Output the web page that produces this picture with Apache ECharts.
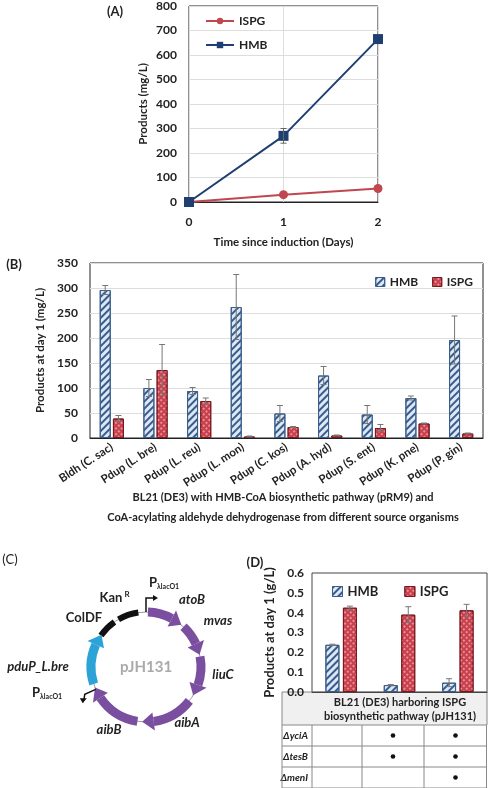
<!DOCTYPE html>
<html><head><meta charset="utf-8">
<script src="https://cdn.jsdelivr.net/npm/echarts@6/dist/echarts.min.js"></script>
<style>html,body{margin:0;padding:0;background:#fff}#c{width:488px;height:788px}</style>
</head><body><div id="c"></div>
<script>
// ---- Panel A data
const daysA = ['0','1','2'];
const hmbA = [0, 270, 665];
const hmbAErr = [0, 30, 0];
const ispgA = [0, 30, 55];
const ispgAErr = [0, 3, 5];
// ---- Panel B data
const catsB = ['Bldh (C. sac)','Pdup (L. bre)','Pdup (L. reu)','Pdup (L. mon)','Pdup (C. kos)','Pdup (A. hyd)','Pdup (S. ent)','Pdup (K. pne)','Pdup (P. gin)'];
const hmbB = [296, 100, 94, 262, 49, 125, 47, 80, 196];
const hmbBErr = [9, 17, 7, 65, 16, 18, 18, 4, 48];
const ispgB = [39, 136, 74, 3, 22, 5, 20, 29, 9];
const ispgBErr = [6, 51, 6, 1, 1, 1, 7, 1, 1];
// ---- Panel D data
const catsD = ['WT', 'dyt', 'dytm'];
const hmbD = [0.238, 0.035, 0.047];
const hmbDErr = [0.003, 0.003, 0.02];
const ispgD = [0.425, 0.39, 0.412];
const ispgDErr = [0.008, 0.04, 0.03];
const rowsD = ['ΔyciA', 'ΔtesB', 'ΔmenI'];
const marksD = [[0,1,1],[0,1,1],[0,0,1]];
// ---- Panel C plasmid segments (degrees clockwise from top)
const plasmidSegs = [
  {name:'ColDF', a0:-55, a1:-35, color:'#111', w:6, arrow:0},
  {name:'KanR', a0:-30, a1:-8, color:'#111', w:6, arrow:0},
  {name:'atoB', a0:2, a1:40, color:'#7b4fa0', w:9, arrow:1},
  {name:'mvas', a0:43, a1:77, color:'#7b4fa0', w:9, arrow:1},
  {name:'liuC', a0:79, a1:121, color:'#7b4fa0', w:9, arrow:1},
  {name:'aibA', a0:128, a1:184, color:'#7b4fa0', w:9, arrow:1},
  {name:'aibB', a0:189, a1:248, color:'#7b4fa0', w:9, arrow:1},
  {name:'pduP', a0:252, a1:306, color:'#2ba3d6', w:9, arrow:1}
];

const F = 'Lato, "Open Sans", sans-serif';
const TC = '#222';
const hmbStyle = {color:'#dce8f4', borderColor:'#3c5d8a', borderWidth:1,
  decal:{symbol:'rect', dashArrayX:[1,0], dashArrayY:[2,2.5], rotation:-Math.PI/4, color:'#3a5c8c'}};
const ispgStyle = {color:'#c9404c', borderColor:'#7a1820', borderWidth:1,
  decal:{symbol:'rect', symbolSize:0.75, dashArrayX:[[2,1.5]], dashArrayY:[2,1.5], rotation:Math.PI/4, color:'rgba(255,220,225,0.9)'}};

function errSeries(xi, yi, vals, errs, offset, color) {
  return {type:'custom', xAxisIndex:xi, yAxisIndex:yi, silent:true, z:10,
    data: vals.map((v,i)=>[i, v, errs[i]]),
    renderItem:(p, api)=>{
      const i=api.value(0), v=api.value(1), e=api.value(2);
      if(!e) return null;
      const top=api.coord([i, v+e]), bot=api.coord([i, Math.max(0,v-e)]);
      const x=top[0]+offset, hw=3;
      const st={stroke:color, lineWidth:1};
      return {type:'group', children:[
        {type:'line', shape:{x1:x,y1:top[1],x2:x,y2:bot[1]}, style:st},
        {type:'line', shape:{x1:x-hw,y1:top[1],x2:x+hw,y2:top[1]}, style:st},
        {type:'line', shape:{x1:x-hw,y1:bot[1],x2:x+hw,y2:bot[1]}, style:st}]};
    }};
}

const axisLbl = {color:TC, fontFamily:F, fontWeight:'bold', fontSize:12};
const nameStyle = {color:TC, fontFamily:F, fontWeight:'bold', fontSize:11.5};

const cx=146, cy=667, R=55;
function pt(a, r){const t=a*Math.PI/180; return [cx+r*Math.sin(t), cy-r*Math.cos(t)];}
const gfx = [];
gfx.push({type:'circle', shape:{cx, cy, r:R}, style:{fill:'none', stroke:'#999', lineWidth:1}});
plasmidSegs.forEach(s=>{
  const head=s.arrow?12:0;
  const b0=s.a0, b1=s.a1-head;
  const toRad = a=>(a-90)*Math.PI/180;
  gfx.push({type:'sector', shape:{cx, cy, r:R+s.w/2, r0:R-s.w/2, startAngle:toRad(b0), endAngle:toRad(b1), clockwise:true},
    style:{fill:s.color}});
  if(s.arrow){
    gfx.push({type:'polygon', shape:{points:[pt(b1,R+s.w), pt(s.a1,R), pt(b1,R-s.w)]}, style:{fill:s.color}});
  }
});
gfx.push({type:'polyline', shape:{points:[pt(0,R),[cx,cy-R-14],[cx+9,cy-R-14]]}, style:{stroke:'#111', lineWidth:1.5, fill:'none'}});
gfx.push({type:'polygon', shape:{points:[[cx+12,cy-R-14],[cx+7,cy-R-17],[cx+7,cy-R-11]]}, style:{fill:'#111'}});
const pb=pt(246,R), pb2=pt(246,R+12);
gfx.push({type:'polyline', shape:{points:[pb,pb2,[pb2[0]-1,pb2[1]+6]]}, style:{stroke:'#111', lineWidth:1.5, fill:'none'}});
gfx.push({type:'polygon', shape:{points:[[pb2[0]-2,pb2[1]+9],[pb2[0]-5,pb2[1]+4],[pb2[0]+2,pb2[1]+4]]}, style:{fill:'#111'}});
function txt(x,y,t,o){return {type:'text', x, y, style:Object.assign({text:t, fill:TC, font:'bold 12px '+F, align:'center', verticalAlign:'middle'}, o||{})};}
gfx.push(txt(146,667,'pJH131',{fill:'#aaa', font:'bold 15px '+F}));
gfx.push(txt(111,598,'Kan',{font:'bold 13px '+F}));
gfx.push(txt(127,594,'R',{font:'bold 8px '+F}));
gfx.push(txt(84,618,'ColDF',{font:'bold 13px '+F}));
gfx.push(txt(149,583,'P',{align:'left', font:'bold 13px '+F}));
gfx.push(txt(157,587,'λlacO1',{align:'left', font:'bold 7px '+F}));
const it='italic bold 13px '+F;
gfx.push(txt(192,600,'atoB',{font:it}));
gfx.push(txt(218,621,'mvas',{font:it}));
gfx.push(txt(223,675,'liuC',{font:it}));
gfx.push(txt(187,723,'aibA',{font:it}));
gfx.push(txt(109,730,'aibB',{font:it}));
gfx.push(txt(38,667,'pduP_L.bre',{font:it}));
gfx.push(txt(32,693,'P',{align:'left', font:'bold 13px '+F}));
gfx.push(txt(40,697,'λlacO1',{align:'left', font:'bold 7px '+F}));
gfx.push(txt(115,12,'(A)',{font:'bold 13px '+F}));
gfx.push(txt(14,265,'(B)',{font:'bold 13px '+F}));
gfx.push(txt(10,560,'(C)',{font:'13px '+F}));
gfx.push(txt(255,563,'(D)',{font:'bold 13px '+F}));
gfx.push(txt(283,497,'BL21 (DE3) with HMB-CoA biosynthetic pathway (pRM9) and',{font:'bold 11px '+F}));
gfx.push(txt(283,517,'CoA-acylating aldehyde dehydrogenase from different source organisms',{font:'bold 11px '+F}));
const tL=282, tR=487, gL=312, colX=[gL,362,424,487];
gfx.push({type:'rect', shape:{x:tL, y:692, width:tR-tL, height:33}, style:{fill:'#f0f0f0', stroke:'#888', lineWidth:1}});
gfx.push(txt(400,702,'BL21 (DE3) harboring ISPG',{font:'bold 11px '+F}));
gfx.push(txt(400,716,'biosynthetic pathway (pJH131)',{font:'bold 11px '+F}));
const rowY=[725,746,767,788];
rowsD.forEach((r,i)=>{
  gfx.push({type:'line', shape:{x1:tL,y1:rowY[i+1],x2:tR,y2:rowY[i+1]}, style:{stroke:'#888', lineWidth:1}});
  gfx.push(txt(308,(rowY[i]+rowY[i+1])/2,r,{align:'right', font:'italic bold 10px '+F}));
  marksD[i].forEach((m,j)=>{ if(m) gfx.push({type:'circle', shape:{cx:(colX[j]+colX[j+1])/2, cy:(rowY[i]+rowY[i+1])/2, r:2.3}, style:{fill:'#111'}}); });
});
[tL, gL, 362, 424, tR-0.5].forEach(x=>gfx.push({type:'line', shape:{x1:x,y1:725,x2:x,y2:788}, style:{stroke:'#888', lineWidth:1}}));

const lt = {fontFamily:F, fontWeight:'bold', fontSize:12, color:TC};
const chart = echarts.init(document.getElementById('c'));
chart.setOption({
  animation:false,
  graphic: gfx,
  legend:[
    {data:[{name:'ISPG'},{name:'HMB'}], orient:'vertical', left:200, top:10, itemGap:12, itemWidth:28, itemHeight:8, textStyle:lt},
    {data:[{name:'HMB ', icon:'rect', itemStyle:hmbStyle},{name:'ISPG ', icon:'rect', itemStyle:ispgStyle}], formatter:n=>n.trim(), right:10, top:271, itemWidth:9, itemHeight:9, itemGap:14, textStyle:lt},
    {data:[{name:'HMB  ', icon:'rect', itemStyle:hmbStyle},{name:'ISPG  ', icon:'rect', itemStyle:ispgStyle}], formatter:n=>n.trim(), left:327, top:580, itemWidth:10, itemHeight:10, itemGap:26, textStyle:Object.assign({},lt,{fontSize:13})}
  ],
  grid:[
    {left:189, top:4, width:189, height:198, show:true, borderColor:'#222', borderWidth:1},
    {left:90, top:263, width:393, height:175, show:true, borderColor:'#222', borderWidth:1},
    {left:312, top:573, width:175, height:119, show:true, borderColor:'#444', borderWidth:1}
  ],
  xAxis:[
    {gridIndex:0, type:'category', data:daysA, boundaryGap:false, axisTick:{show:false}, axisLine:{lineStyle:{color:'#222'}},
      splitLine:{show:true, lineStyle:{color:'#ddd'}}, axisLabel:Object.assign({},axisLbl,{margin:14}),
      name:'Time since induction (Days)', nameLocation:'middle', nameGap:34, nameTextStyle:nameStyle},
    {gridIndex:1, type:'category', data:catsB, axisTick:{show:false}, axisLine:{lineStyle:{color:'#222'}},
      axisLabel:Object.assign({},axisLbl,{rotate:33, margin:8, interval:0, fontSize:11.5})},
    {gridIndex:2, type:'category', data:catsD, axisTick:{show:false}, axisLabel:{show:false}, axisLine:{lineStyle:{color:'#444'}}}
  ],
  yAxis:[
    {gridIndex:0, min:0, max:800, interval:100, axisLabel:Object.assign({},axisLbl,{margin:12}), splitLine:{lineStyle:{color:'#ddd'}},
      name:'Products (mg/L)', nameLocation:'middle', nameGap:40, nameTextStyle:nameStyle},
    {gridIndex:1, min:0, max:350, interval:50, axisLabel:Object.assign({},axisLbl,{margin:12}), splitLine:{lineStyle:{color:'#ddd'}},
      name:'Products at day 1 (mg/L)', nameLocation:'middle', nameGap:44, nameTextStyle:nameStyle},
    {gridIndex:2, min:0, max:0.6, interval:0.1, axisLabel:Object.assign({},axisLbl,{margin:8, formatter:v=>v.toFixed(1)}), splitLine:{show:false},
      name:'Products at day 1 (g/L)', nameLocation:'middle', nameGap:36, nameTextStyle:Object.assign({},nameStyle,{fontSize:13})}
  ],
  series:[
    {name:'ISPG', type:'line', xAxisIndex:0, yAxisIndex:0, data:ispgA, symbol:'circle', symbolSize:9, lineStyle:{color:'#c0474f', width:2}, itemStyle:{color:'#c0474f'}},
    {name:'HMB', type:'line', xAxisIndex:0, yAxisIndex:0, data:hmbA, symbol:'rect', symbolSize:10, lineStyle:{color:'#1f3f73', width:2}, itemStyle:{color:'#1f3f73'}},
    errSeries(0,0,hmbA,hmbAErr,0,'#666'),
    {name:'HMB ', type:'bar', xAxisIndex:1, yAxisIndex:1, data:hmbB, barWidth:11, barGap:'20%', itemStyle:hmbStyle},
    {name:'ISPG ', type:'bar', xAxisIndex:1, yAxisIndex:1, data:ispgB, barWidth:11, barGap:'20%', itemStyle:ispgStyle},
    errSeries(1,1,hmbB,hmbBErr,-6.6,'#777'),
    errSeries(1,1,ispgB,ispgBErr,6.6,'#777'),
    {name:'HMB  ', type:'bar', xAxisIndex:2, yAxisIndex:2, data:hmbD, barWidth:14, barGap:'25%', itemStyle:hmbStyle},
    {name:'ISPG  ', type:'bar', xAxisIndex:2, yAxisIndex:2, data:ispgD, barWidth:14, barGap:'25%', itemStyle:ispgStyle},
    errSeries(2,2,hmbD,hmbDErr,-8.75,'#777'),
    errSeries(2,2,ispgD,ispgDErr,8.75,'#777')
  ]
});
</script></body></html>
